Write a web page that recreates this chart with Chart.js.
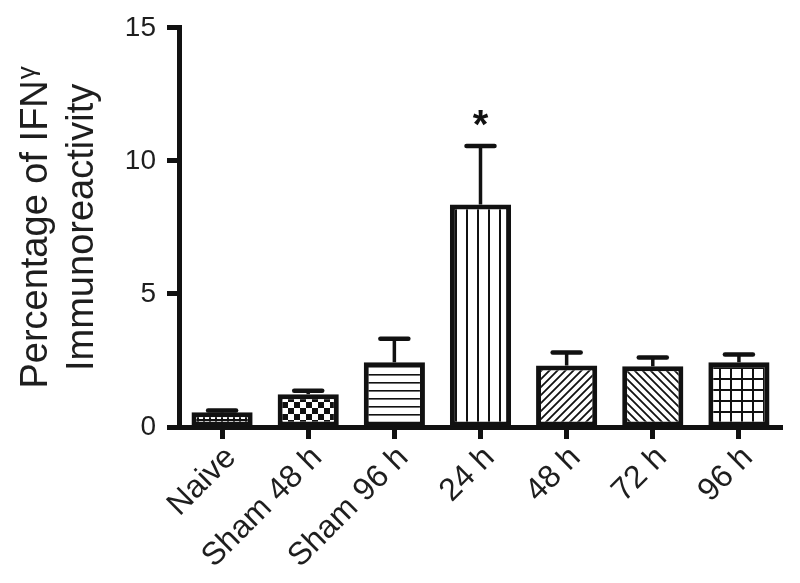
<!DOCTYPE html>
<html>
<head>
<meta charset="utf-8">
<script src="https://cdn.jsdelivr.net/npm/chart.js@4.4.1/dist/chart.umd.min.js"></script>
<style>
  html, body { margin: 0; padding: 0; background: #ffffff; }
  #wrap { width: 800px; height: 583px; }
</style>
</head>
<body>
<div id="wrap"><canvas id="c" width="800" height="583"></canvas></div>
<script>
// ---- data ----
const categories = ["Naive", "Sham 48 h", "Sham 96 h", "24 h", "48 h", "72 h", "96 h"];
const meanValues = [0.55, 1.23, 2.43, 8.36, 2.31, 2.28, 2.43];
const semValues  = [0.07, 0.13, 0.89, 2.20, 0.49, 0.33, 0.29];
const significance = ["", "", "", "*", "", "", ""];
const yTicks = [0, 5, 10, 15];
const yTitleLine1 = "Percentage of IFN";
const yTitleGreek = "\u03B3";
const yTitleLine2 = "Immunoreactivity";
const patternNames = ["dots", "checker", "hlines", "vlines", "diagUp", "diagDown", "grid"];

// ---- fill patterns ----
function makePattern(kind) {
  const c = document.createElement("canvas");
  const g = c.getContext("2d");
  let s;
  switch (kind) {
    case "dots":
      s = 6; c.width = s; c.height = s;
      g.fillStyle = "#111"; g.fillRect(0, 0, s, s);
      g.fillStyle = "#fff"; g.fillRect(1, 1, 4, 4);
      break;
    case "checker":
      s = 12; c.width = s; c.height = s;
      g.fillStyle = "#fff"; g.fillRect(0, 0, s, s);
      g.fillStyle = "#111"; g.fillRect(0, 0, 6, 6); g.fillRect(6, 6, 6, 6);
      break;
    case "hlines":
      s = 8; c.width = s; c.height = s;
      g.fillStyle = "#fff"; g.fillRect(0, 0, s, s);
      g.fillStyle = "#111"; g.fillRect(0, 6, s, 1.6);
      break;
    case "vlines":
      s = 11; c.width = s; c.height = s;
      g.fillStyle = "#fff"; g.fillRect(0, 0, s, s);
      g.fillStyle = "#111"; g.fillRect(4, 0, 2, s);
      break;
    case "diagUp":
    case "diagDown":
      s = 8; c.width = s; c.height = s;
      g.fillStyle = "#fff"; g.fillRect(0, 0, s, s);
      g.strokeStyle = "#111"; g.lineWidth = 1.8;
      g.beginPath();
      if (kind === "diagUp") {
        g.moveTo(0, s); g.lineTo(s, 0);
        g.moveTo(-1, 1); g.lineTo(1, -1);
        g.moveTo(s - 1, s + 1); g.lineTo(s + 1, s - 1);
      } else {
        g.moveTo(0, 0); g.lineTo(s, s);
        g.moveTo(-1, s - 1); g.lineTo(1, s + 1);
        g.moveTo(s - 1, -1); g.lineTo(s + 1, 1);
      }
      g.stroke();
      break;
    case "grid":
      s = 11; c.width = s; c.height = s;
      g.fillStyle = "#fff"; g.fillRect(0, 0, s, s);
      g.fillStyle = "#111"; g.fillRect(4, 0, 2, s); g.fillRect(0, 4, s, 2);
      break;
  }
  return document.getElementById("c").getContext("2d").createPattern(c, "repeat");
}

const INK = "#111111";
const TEXT = "#1e1e1e";
const FONT = "'Liberation Sans', Arial, sans-serif";

// ---- error bars + significance marks, drawn from the scales ----
const errorBarPlugin = {
  id: "errorBars",
  afterDatasetsDraw(chart) {
    const ctx = chart.ctx;
    const meta = chart.getDatasetMeta(0);
    const yScale = chart.scales.y;
    ctx.save();
    ctx.strokeStyle = INK;
    meta.data.forEach((bar, i) => {
      const topVal = meanValues[i] + semValues[i];
      const yTop = yScale.getPixelForValue(topVal);
      const yBar = yScale.getPixelForValue(meanValues[i]);
      ctx.lineWidth = 3.5;
      ctx.lineCap = "butt";
      ctx.beginPath();
      ctx.moveTo(bar.x, yBar);
      ctx.lineTo(bar.x, yTop);
      ctx.stroke();
      ctx.lineWidth = 4.5;
      ctx.lineCap = "round";
      ctx.beginPath();
      ctx.moveTo(bar.x - 14, yTop);
      ctx.lineTo(bar.x + 14, yTop);
      ctx.stroke();
      if (significance[i]) {
        ctx.fillStyle = INK;
        ctx.font = "bold 40px " + FONT;
        ctx.textAlign = "center";
        ctx.textBaseline = "alphabetic";
        ctx.fillText(significance[i], bar.x, yTop - 8);
      }
    });
    ctx.restore();
  }
};

// ---- y axis title (two lines, small raised gamma) ----
const yTitlePlugin = {
  id: "yTitle",
  afterDraw(chart) {
    const ctx = chart.ctx;
    const area = chart.chartArea;
    const cy = (area.top + area.bottom) / 2;
    ctx.save();
    ctx.fillStyle = TEXT;
    ctx.textBaseline = "alphabetic";
    ctx.textAlign = "left";
    const big = "38px " + FONT, small = "26px " + FONT;
    ctx.font = big;
    const w1 = ctx.measureText(yTitleLine1).width;
    ctx.font = small;
    const wg = ctx.measureText(yTitleGreek).width;
    const total1 = w1 + wg + 1;
    ctx.translate(47, cy);
    ctx.rotate(-Math.PI / 2);
    ctx.font = big;
    ctx.fillText(yTitleLine1, -total1 / 2, 0);
    ctx.font = small;
    ctx.fillText(yTitleGreek, -total1 / 2 + w1 + 1, -12);
    ctx.restore();
    ctx.save();
    ctx.fillStyle = TEXT;
    ctx.textBaseline = "alphabetic";
    ctx.textAlign = "center";
    ctx.font = big;
    ctx.translate(93, cy);
    ctx.rotate(-Math.PI / 2);
    ctx.fillText(yTitleLine2, 0, 0);
    ctx.restore();
  }
};

const ctx = document.getElementById("c").getContext("2d");
new Chart(ctx, {
  type: "bar",
  data: {
    labels: categories,
    datasets: [{
      data: meanValues,
      backgroundColor: patternNames.map(makePattern),
      borderColor: INK,
      borderWidth: 5,
      borderSkipped: false,
      barPercentage: 0.71,
      categoryPercentage: 1.0
    }]
  },
  options: {
    responsive: false,
    devicePixelRatio: 1,
    animation: false,
    layout: { padding: { left: 0, top: 26, right: 18, bottom: 0 } },
    plugins: { legend: { display: false }, tooltip: { enabled: false }, title: { display: false } },
    scales: {
      x: {
        offset: true,
        grid: { display: true, drawOnChartArea: false, drawTicks: true, tickLength: 12, tickWidth: 5, tickColor: INK, offset: false },
        border: { display: true, color: INK, width: 5 },
        ticks: {
          color: TEXT,
          font: { family: FONT, size: 32 },
          minRotation: 45, maxRotation: 45,
          padding: 0,
          labelOffset: 9,
          autoSkip: false
        },
        afterFit(scale) { scale.height = 156; }
      },
      y: {
        min: 0, max: 15,
        afterBuildTicks(scale) { scale.ticks = yTicks.map(v => ({ value: v })); },
        grid: { display: true, drawOnChartArea: false, drawTicks: true, tickLength: 12, tickWidth: 5, tickColor: INK },
        border: { display: true, color: INK, width: 5 },
        ticks: {
          color: TEXT,
          font: { family: FONT, size: 28 },
          padding: 11
        },
        afterFit(scale) { scale.width = 179; }
      }
    }
  },
  plugins: [errorBarPlugin, yTitlePlugin]
});
</script>
</body>
</html>
